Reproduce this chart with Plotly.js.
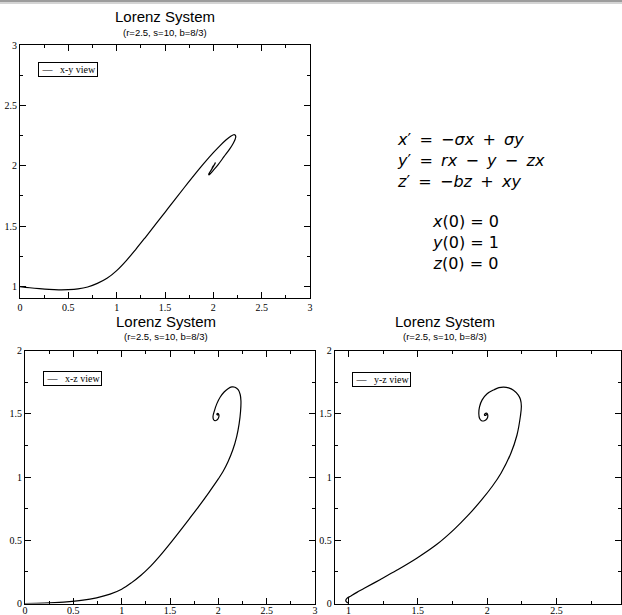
<!DOCTYPE html>
<html>
<head>
<meta charset="utf-8">
<script src="https://cdn.plot.ly/plotly-3.0.1.min.js"></script>
<style>
  html, body { margin: 0; padding: 0; background: #fff; overflow: hidden; }
  #lorenz { width: 622px; height: 615px; }
</style>
</head>
<body>
<div id="lorenz"></div>
<script>
var xyX = [0, 0.1, 0.2, 0.3, 0.4, 0.5, 0.6, 0.7, 0.8, 0.9, 1.0, 1.1, 1.2, 1.3, 1.4, 1.5,
  1.6, 1.7, 1.8, 1.9, 2.0, 2.07, 2.13, 2.18, 2.21, 2.225, 2.232, 2.226, 2.205, 2.17, 2.11,
  2.05, 2.0, 1.97, 1.955, 1.952, 1.965, 1.99, 2.015, 2.022, 2.018, 2.0, 1.985, 1.99, 2.0];
var xyY = [1.0, 0.99, 0.982, 0.976, 0.973, 0.974, 0.98, 0.996, 1.026, 1.068, 1.132, 1.215,
  1.31, 1.41, 1.512, 1.615, 1.718, 1.82, 1.92, 2.017, 2.108, 2.167, 2.213, 2.245, 2.257,
  2.255, 2.242, 2.22, 2.185, 2.14, 2.075, 2.01, 1.962, 1.935, 1.924, 1.93, 1.948, 1.98,
  2.015, 2.027, 2.02, 1.995, 1.975, 1.985, 2.0];

var xzX = [0, 0.2, 0.4, 0.6, 0.74, 0.88, 1.0, 1.1, 1.2, 1.3, 1.4, 1.5, 1.6, 1.7, 1.8, 1.9,
  2.0, 2.05, 2.1, 2.15, 2.19, 2.215, 2.23, 2.234, 2.226, 2.205, 2.172, 2.14, 2.1, 2.06,
  2.02, 1.985, 1.96, 1.945, 1.95, 1.965, 1.985, 2.0, 2.007, 2.0, 1.99, 1.985, 1.995, 2.0];
var xzZ = [0, 0.003, 0.011, 0.026, 0.045, 0.074, 0.113, 0.163, 0.223, 0.295, 0.38, 0.473,
  0.57, 0.669, 0.77, 0.875, 0.985, 1.045, 1.12, 1.215, 1.32, 1.42, 1.52, 1.6, 1.652, 1.69,
  1.71, 1.712, 1.698, 1.672, 1.632, 1.58, 1.525, 1.48, 1.455, 1.445, 1.45, 1.465, 1.485,
  1.5, 1.502, 1.495, 1.49, 1.5];

var yzY = [1.0, 0.985, 0.98, 0.99, 1.014, 1.06, 1.11, 1.23, 1.35, 1.495, 1.64, 1.76, 1.86,
  1.96, 2.04, 2.1, 2.17, 2.215, 2.24, 2.247, 2.24, 2.225, 2.19, 2.155, 2.12, 2.085, 2.05,
  2.0, 1.964, 1.945, 1.94, 1.945, 1.96, 1.98, 1.998, 2.005, 1.998, 1.985, 1.982, 1.993, 2.0];
var yzZ = [0, 0.012, 0.025, 0.042, 0.058, 0.088, 0.118, 0.19, 0.264, 0.36, 0.47, 0.584,
  0.694, 0.819, 0.931, 1.03, 1.184, 1.33, 1.48, 1.56, 1.615, 1.648, 1.686, 1.704, 1.71,
  1.706, 1.69, 1.658, 1.61, 1.555, 1.5, 1.465, 1.445, 1.445, 1.46, 1.485, 1.503, 1.5,
  1.488, 1.49, 1.5];

var W = 622, H = 615;
var serif = 'Liberation Serif, Times New Roman, serif';
var sans = 'Liberation Sans, Arial, sans-serif';
var math = 'DejaVu Sans, sans-serif';

function curve(xs, ys, xa, ya, name) {
  return {
    x: xs, y: ys, xaxis: xa, yaxis: ya, name: name,
    type: 'scatter', mode: 'lines', showlegend: false, hoverinfo: 'skip',
    line: {color: '#000', width: 1.2, shape: 'spline', smoothing: 1}
  };
}

function axis(range, domain, anchor, standoff) {
  return {
    range: range, domain: domain, anchor: anchor,
    tick0: 0, dtick: 0.5, ticks: 'inside', ticklen: 6, tickwidth: 1, tickcolor: '#000',
    minor: {dtick: 0.25, ticks: 'inside', ticklen: 3, tickwidth: 1, tickcolor: '#000', showgrid: false},
    showline: true, linecolor: '#000', linewidth: 1, mirror: 'allticks',
    showgrid: false, zeroline: false, automargin: false, fixedrange: true,
    ticklabelstandoff: standoff || 0,
    tickfont: {family: serif, size: 10, color: '#000'}
  };
}

function px(v) { return v / W; }
function py(v) { return 1 - v / H; }

function note(text, x, y, size, family, extra) {
  var a = {
    text: text, x: px(x), y: py(y), xref: 'paper', yref: 'paper', showarrow: false,
    xanchor: 'center', yanchor: 'middle', font: {family: family, size: size, color: '#000'}
  };
  for (var k in extra) a[k] = extra[k];
  return a;
}

function legendBox(label, x, y) {
  return note('\u00a0\u2014\u00a0\u00a0\u00a0' + label, x, y, 10, serif,
    {xanchor: 'left', bordercolor: '#000', borderwidth: 1, borderpad: 1, bgcolor: 'rgba(0,0,0,0)'});
}

var data = [
  curve(xyX, xyY, 'x', 'y', 'x-y view'),
  curve(xzX, xzZ, 'x2', 'y2', 'x-z view'),
  curve(yzY, yzZ, 'x3', 'y3', 'y-z view')
];

var subtitle = '(r=2.5, s=10, b=8/3)';
var sp = ' \u2009';

var layout = {
  width: W, height: H,
  margin: {l: 0, r: 0, t: 0, b: 0},
  paper_bgcolor: '#fff', plot_bgcolor: '#fff',
  showlegend: false,
  xaxis: axis([0, 3], [px(20), px(310)], 'y'),
  yaxis: axis([0.905, 3], [py(298), py(45)], 'x'),
  xaxis2: axis([0, 3], [px(25), px(315)], 'y2', -3),
  yaxis2: axis([0, 2], [py(603.5), py(350.5)], 'x2'),
  xaxis3: axis([0.9, 2.966], [px(334.7), px(621)], 'y3', -3),
  yaxis3: axis([0, 2], [py(603.5), py(350.5)], 'x3'),
  shapes: [
    {type: 'rect', xref: 'paper', yref: 'paper', x0: 0, x1: 1, y0: py(2), y1: 1,
     fillcolor: '#9c9c9c', line: {width: 0}},
    {type: 'rect', xref: 'paper', yref: 'paper', x0: 0, x1: 1, y0: py(4), y1: py(2),
     fillcolor: '#d4d4d4', line: {width: 0}}
  ],
  annotations: [
    note('Lorenz System', 165, 16.7, 15, sans),
    note(subtitle, 165, 32.7, 9.5, sans),
    note('Lorenz System', 165.5, 321.7, 15, sans),
    note(subtitle, 165.5, 336.7, 9.5, sans),
    note('Lorenz System', 445, 321.7, 15, sans),
    note(subtitle, 445, 336.7, 9.5, sans),
    legendBox('x-y view', 37.7, 70),
    legendBox('x-z view', 43.3, 378.5),
    legendBox('y-z view', 351.7, 379),
    note('<i>x</i>\u2032' + sp + '=' + sp + '\u2212<i>\u03c3x</i>' + sp + '+' + sp + '<i>\u03c3y</i><br>' +
         '<i>y</i>\u2032' + sp + '=' + sp + '<i>rx</i>' + sp + '\u2212' + sp + '<i>y</i>' + sp + '\u2212' + sp + '<i>zx</i><br>' +
         '<i>z</i>\u2032' + sp + '=' + sp + '\u2212<i>bz</i>' + sp + '+' + sp + '<i>xy</i>',
         395, 161, 16, math, {xanchor: 'left', align: 'left'}),
    note('<i>x</i>(0) = 0<br><i>y</i>(0) = 1<br><i>z</i>(0) = 0',
         466, 242.5, 16, math, {align: 'center'})
  ]
};

Plotly.newPlot('lorenz', data, layout, {staticPlot: true, displayModeBar: false});
</script>
</body>
</html>
